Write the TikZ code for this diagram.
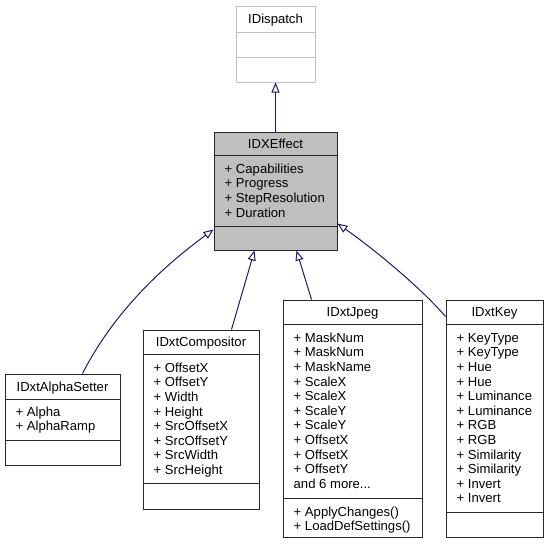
\documentclass[tikz,border=0pt]{standalone}
\usepackage{fontspec}
\setmainfont{Liberation Sans}
\usetikzlibrary{arrows.meta,calc}
\definecolor{edgeblue}{RGB}{25,25,112}
\definecolor{effectgray}{RGB}{191,191,191}
\definecolor{lightborder}{RGB}{191,191,191}
\newcommand\umltext{\fontsize{13.1}{14.6}\selectfont}
\newcommand\memberlist[4]{%
  \foreach \t [count=\i from 0] in {#4} {%
    \node[member] (#1m\i) at ({#2+10.5},{#3+\i*14.6}) {\t};}}
\begin{document}
\begin{tikzpicture}[x=1pt,y=-1pt,
  cbox/.style={draw=black!85,line width=1pt,fill=white,inner sep=0pt,rectangle},
  divline/.style={draw=black!85,line width=1pt},
  member/.style={anchor=west,inner sep=0pt,font=\umltext,text height=9.5pt,text depth=0pt},
  ctitle/.style={anchor=center,inner sep=0pt,font=\umltext,text height=9.5pt,text depth=0pt},
  inh/.style={draw=edgeblue,line width=1pt,-{Triangle[open,length=10pt,width=8pt,line width=1pt]}}]
\useasboundingbox (0,0) rectangle (549,544);

% IDispatch
\node[cbox,draw=lightborder,minimum width=79pt,minimum height=76pt] (idispatch) at (275.5,44) {};
\draw[divline,draw=lightborder] (236,32) -- (315,32);
\draw[divline,draw=lightborder] (236,57) -- (315,57);
\node[ctitle] (idispatchT) at (275.5,19) {IDispatch};

% IDXEffect
\node[cbox,fill=effectgray,minimum width=123pt,minimum height=118pt] (effect) at (275.5,191) {};
\draw[divline] (214,155) -- (337,155);
\draw[divline] (214,226) -- (337,226);
\node[ctitle] (effectT) at (275.5,143.5) {IDXEffect};
\memberlist{effect}{214}{168.5}{+ Capabilities,+ Progress,+ StepResolution,+ Duration}

% IDxtAlphaSetter
\node[cbox,minimum width=115pt,minimum height=91pt] (alpha) at (62.5,419.5) {};
\draw[divline] (5,399) -- (120,399);
\draw[divline] (5,440) -- (120,440);
\node[ctitle] (alphaT) at (62.5,386.5) {IDxtAlphaSetter};
\memberlist{alpha}{5}{411.5}{+ Alpha,+ AlphaRamp}

% IDxtCompositor
\node[cbox,minimum width=116pt,minimum height=179pt] (comp) at (201,419.5) {};
\draw[divline] (143,354) -- (259,354);
\draw[divline] (143,483) -- (259,483);
\node[ctitle] (compT) at (201,342) {IDxtCompositor};
\memberlist{comp}{143}{367.5}{+ OffsetX,+ OffsetY,+ Width,+ Height,+ SrcOffsetX,+ SrcOffsetY,+ SrcWidth,+ SrcHeight}

% IDxtJpeg
\node[cbox,minimum width=139pt,minimum height=237pt] (jpeg) at (352.5,418.5) {};
\draw[divline] (283,324) -- (422,324);
\draw[divline] (283,498) -- (422,498);
\node[ctitle] (jpegT) at (352.5,312) {IDxtJpeg};
\memberlist{jpeg}{283}{337.5}{+ MaskNum,+ MaskNum,+ MaskName,+ ScaleX,+ ScaleX,+ ScaleY,+ ScaleY,+ OffsetX,+ OffsetX,+ OffsetY}
\node[member] (jpegmore) at (293.5,483.5) {and 6 more...};
\memberlist{jpegf}{283}{511.5}{+ ApplyChanges(),+ LoadDefSettings()}

% IDxtKey
\node[cbox,minimum width=97pt,minimum height=237pt] (key) at (494.5,418.5) {};
\draw[divline] (446,324) -- (543,324);
\draw[divline] (446,512) -- (543,512);
\node[ctitle] (keyT) at (494.5,312) {IDxtKey};
\memberlist{key}{446}{337.5}{+ KeyType,+ KeyType,+ Hue,+ Hue,+ Luminance,+ Luminance,+ RGB,+ RGB,+ Similarity,+ Similarity,+ Invert,+ Invert}

% inheritance edges
\draw[inh] (effect.north) -- (idispatch.south);
\draw[inh] ($(alpha.north west)+(78,0)$) .. controls (115,310) and (165,265) .. ($(effect.north west)+(0,98)$);
\draw[inh] ($(comp.north west)+(89,0)$) -- ($(effect.south west)+(41,0)$);
\draw[inh] ($(jpeg.north west)+(29,0)$) -- ($(effect.south west)+(83,0)$);
\draw[inh] ($(key.north west)+(0,17)$) .. controls (420,287) and (375,250) .. ($(effect.north east)+(0,92)$);
\end{tikzpicture}
\end{document}
